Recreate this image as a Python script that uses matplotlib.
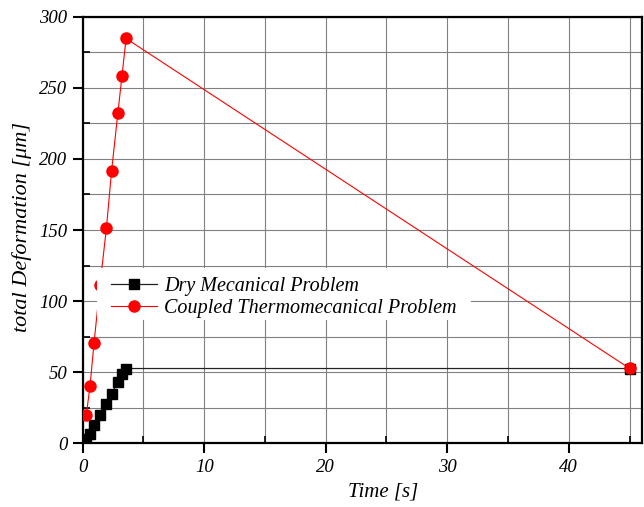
import matplotlib
matplotlib.use("Agg")
import matplotlib.pyplot as plt
from matplotlib.patches import Rectangle
from matplotlib.ticker import MultipleLocator

plt.rcParams['font.family'] = ['Liberation Serif', 'DejaVu Serif']
plt.rcParams['font.style'] = 'italic'

# values
time_s = [0.3, 0.6, 0.93, 1.42, 1.95, 2.38, 2.9, 3.23, 3.57, 45.0]
dry = [2.8, 6.8, 12.7, 20.2, 27.5, 35.0, 43.0, 48.4, 52.6, 52.6]
coupled = [20.2, 40.1, 70.2, 111.0, 151.2, 191.8, 232.6, 258.2, 284.7, 52.7]

labels = ['Dry Mecanical Problem', 'Coupled Thermomecanical Problem']

fig = plt.figure(figsize=(6.44, 5.07), dpi=100)
ax = fig.add_axes([0.1284, 0.1256, 0.8680, 0.8414])

ax.plot(time_s, dry, color='#222222', lw=0.9, marker='s', ms=7.2,
        mfc='black', mec='black', label=labels[0], zorder=3)
ax.plot(time_s, coupled, color='red', lw=0.8, marker='o', ms=8,
        mfc='red', mec='red', label=labels[1], zorder=4)

ax.set_xlim(0, 46)
ax.set_ylim(0, 300)
ax.xaxis.set_major_locator(MultipleLocator(10))
ax.xaxis.set_minor_locator(MultipleLocator(5))
ax.yaxis.set_major_locator(MultipleLocator(50))
ax.yaxis.set_minor_locator(MultipleLocator(25))

ax.grid(True, which='both', color='#808080', lw=0.8, zorder=0)
ax.set_axisbelow(True)

ax.tick_params(which='major', direction='out', length=7, width=1.5,
               labelsize=13.5, pad=4)
ax.tick_params(which='minor', direction='in', length=5, width=1.2)
for s in ax.spines.values():
    s.set_linewidth(1.6)
    s.set_color('black')

ax.set_xlabel('Time [s]', fontsize=15)
ax.set_ylabel('total Deformation [μm]', fontsize=16)
ax.xaxis.set_label_coords((383.5 - 82.7) / 559, -0.092)
ax.yaxis.set_label_coords(-0.091, 0.506)

# white box behind the legend (covers grid and lines)
ax.add_patch(Rectangle((0.0256, 0.289), 0.669, 0.122, transform=ax.transAxes,
                       facecolor='white', edgecolor='none', zorder=5))

leg = ax.legend(loc='lower left', bbox_to_anchor=(0.0506, 0.294),
                borderaxespad=0, fontsize=14.5, frameon=False,
                handlelength=2.3, handletextpad=0.35, labelspacing=0.15,
                borderpad=0)
leg.set_zorder(6)

fig.savefig('out.png', dpi=100)
